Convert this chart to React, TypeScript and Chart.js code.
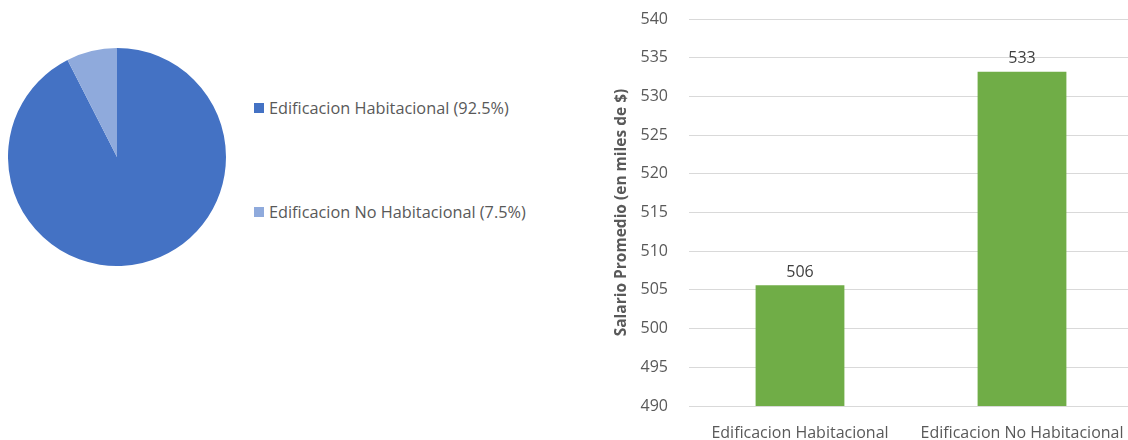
import React, { useEffect, useRef } from "react";
import { Chart, registerables } from "chart.js";

Chart.register(...registerables);

// Distribution of construction type (share, %)
const pieLabels = ["Edificacion Habitacional", "Edificacion No Habitacional"];
const pieShares = [92.5, 7.5];
const pieColors = ["#4472C4", "#8FAADC"];

// Average salary by construction type (thousands of $)
const barCategories = ["Edificacion Habitacional", "Edificacion No Habitacional"];
const barSalaries = [505.6, 533.2];
const yTickMin = 490;
const yTickMax = 540;
const yTickStep = 5;

const FONT = "'Open Sans', sans-serif";
const TEXT = "#595959";

const valueLabels = {
  id: "valueLabels",
  afterDatasetsDraw(chart: any) {
    const { ctx } = chart;
    const meta = chart.getDatasetMeta(0);
    ctx.save();
    ctx.font = `16px ${FONT}`;
    ctx.fillStyle = "#404040";
    ctx.textAlign = "center";
    ctx.textBaseline = "bottom";
    meta.data.forEach((bar: any, i: number) => {
      const v = chart.data.datasets[0].data[i] as number;
      ctx.fillText(String(Math.round(v)), bar.x, bar.y - 5);
    });
    ctx.restore();
  },
};

function PieChart() {
  const ref = useRef<HTMLCanvasElement>(null);
  useEffect(() => {
    const chart = new Chart(ref.current!, {
      type: "pie",
      data: {
        labels: pieLabels,
        datasets: [{ data: pieShares, backgroundColor: pieColors, borderWidth: 0 }],
      },
      options: {
        animation: false,
        responsive: false,
        layout: { padding: 0 },
        plugins: { legend: { display: false }, tooltip: { enabled: false } },
      },
    });
    return () => chart.destroy();
  }, []);
  return (
    <canvas
      ref={ref}
      width={218}
      height={218}
      style={{ position: "absolute", left: 8, top: 48, width: 218, height: 218 }}
    />
  );
}

function BarChart() {
  const ref = useRef<HTMLCanvasElement>(null);
  useEffect(() => {
    const chart = new Chart(ref.current!, {
      type: "bar",
      data: {
        labels: barCategories,
        datasets: [
          {
            data: barSalaries,
            backgroundColor: "#70AD47",
            barPercentage: 0.4,
            categoryPercentage: 1,
          },
        ],
      },
      options: {
        animation: false,
        responsive: false,
        layout: { padding: { top: 19, right: 7, left: 0, bottom: 0 } },
        plugins: { legend: { display: false }, tooltip: { enabled: false } },
        scales: {
          x: {
            grid: { display: false },
            border: { display: false },
            ticks: { color: TEXT, font: { family: FONT, size: 16 }, padding: 10, maxRotation: 0 },
            afterFit(scale: any) {
              scale.height = 34;
              scale.paddingLeft = 0;
              scale.paddingRight = 0;
            },
          },
          y: {
            min: yTickMin,
            max: yTickMax,
            grid: { color: "#D9D9D9", drawTicks: false },
            border: { display: false },
            ticks: { stepSize: yTickStep, color: TEXT, font: { family: FONT, size: 16 }, padding: 21 },
            title: {
              display: true,
              text: "Salario Promedio (en miles de $)",
              color: TEXT,
              font: { family: FONT, size: 15.5, weight: "bold" },
              padding: { top: 12, bottom: 0 },
            },
            afterFit(scale: any) {
              scale.width = 89;
              scale.paddingTop = 0;
              scale.paddingBottom = 0;
            },
          },
        },
      },
      plugins: [valueLabels],
    });
    return () => chart.destroy();
  }, []);
  return (
    <canvas
      ref={ref}
      width={540}
      height={440}
      style={{ position: "absolute", left: 600, top: 0, width: 540, height: 440 }}
    />
  );
}

function Legend() {
  return (
    <>
      {pieLabels.map((label, i) => (
        <div
          key={label}
          style={{
            position: "absolute",
            left: 254,
            top: i === 0 ? 97 : 201,
            display: "flex",
            alignItems: "center",
            fontFamily: FONT,
            fontSize: 16.3,
            color: TEXT,
            whiteSpace: "nowrap",
            lineHeight: "22px",
          }}
        >
          <span
            style={{
              display: "inline-block",
              width: 10,
              height: 10,
              background: pieColors[i],
              marginRight: 5,
            }}
          />
          {`${label} (${pieShares[i]}%)`}
        </div>
      ))}
    </>
  );
}

export default function App() {
  return (
    <div
      style={{
        position: "fixed",
        left: 0,
        top: 0,
        width: 1128,
        height: 440,
        overflow: "hidden",
        background: "#fff",
      }}
    >
      <PieChart />
      <Legend />
      <BarChart />
    </div>
  );
}
